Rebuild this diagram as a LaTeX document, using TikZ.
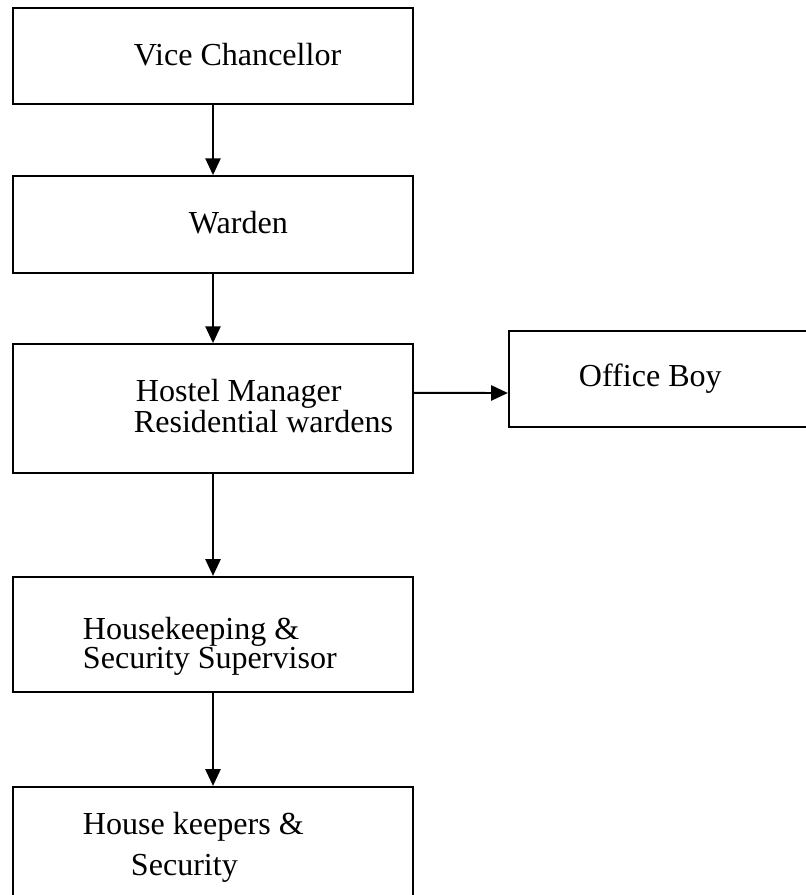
\documentclass[tikz,border=0pt]{standalone}
\usepackage{fontspec}
\setmainfont{Liberation Serif}
\usetikzlibrary{arrows.meta}

\begin{document}
\begin{tikzpicture}[x=0.025cm, y=-0.025cm, line width=1.4pt,
    box/.style={draw, rectangle, minimum width=10cm, inner sep=0pt},
    txt/.style={anchor=base west, inner sep=0pt, font=\fontsize{22.8}{27}\selectfont},
    arr/.style={-{Triangle[length=0.42cm, width=0.38cm]}}]
    \useasboundingbox (0,0) rectangle (806,895);
    \clip (0,0) rectangle (806,895);

    % boxes
    \node[box, minimum height=2.39cm] (vc) at (213,56.25) {};
    \node[box, minimum height=2.42cm] (wd) at (213,224.5) {};
    \node[box, minimum height=3.22cm] (hm) at (213,408.5) {};
    \node[box, minimum width=8.03cm, minimum height=2.4cm] (ob) at (669.5,379) {};
    \node[box, minimum height=2.88cm] (hs) at (213,634.5) {};
    \node[box, minimum height=3.33cm] (hk) at (213,853.5) {};

    % texts
    \node[txt] (vct) at (133,65) {Vice Chancellor};
    \node[txt] (wdt) at (188,233) {Warden};
    \node[txt] (hmt) at (135,401) {Hostel Manager};
    \node[txt] (rwt) at (133,432) {Residential wardens};
    \node[txt] (obt) at (578,386) {Office Boy};
    \node[txt] (hst) at (82,639) {Housekeeping \&};
    \node[txt] (sst) at (82,668) {Security Supervisor};
    \node[txt] (hkt) at (82,834) {House keepers \&};
    \node[txt] (sct) at (130,875) {Security};

    % arrows
    \draw[arr] (vc.south) -- (wd.north);
    \draw[arr] (wd.south) -- (hm.north);
    \draw[arr] ([yshift=0.39cm]hm.east) -- ([yshift=-0.35cm]ob.west);
    \draw[arr] (hm.south) -- (hs.north);
    \draw[arr] (hs.south) -- (hk.north);
\end{tikzpicture}
\end{document}
